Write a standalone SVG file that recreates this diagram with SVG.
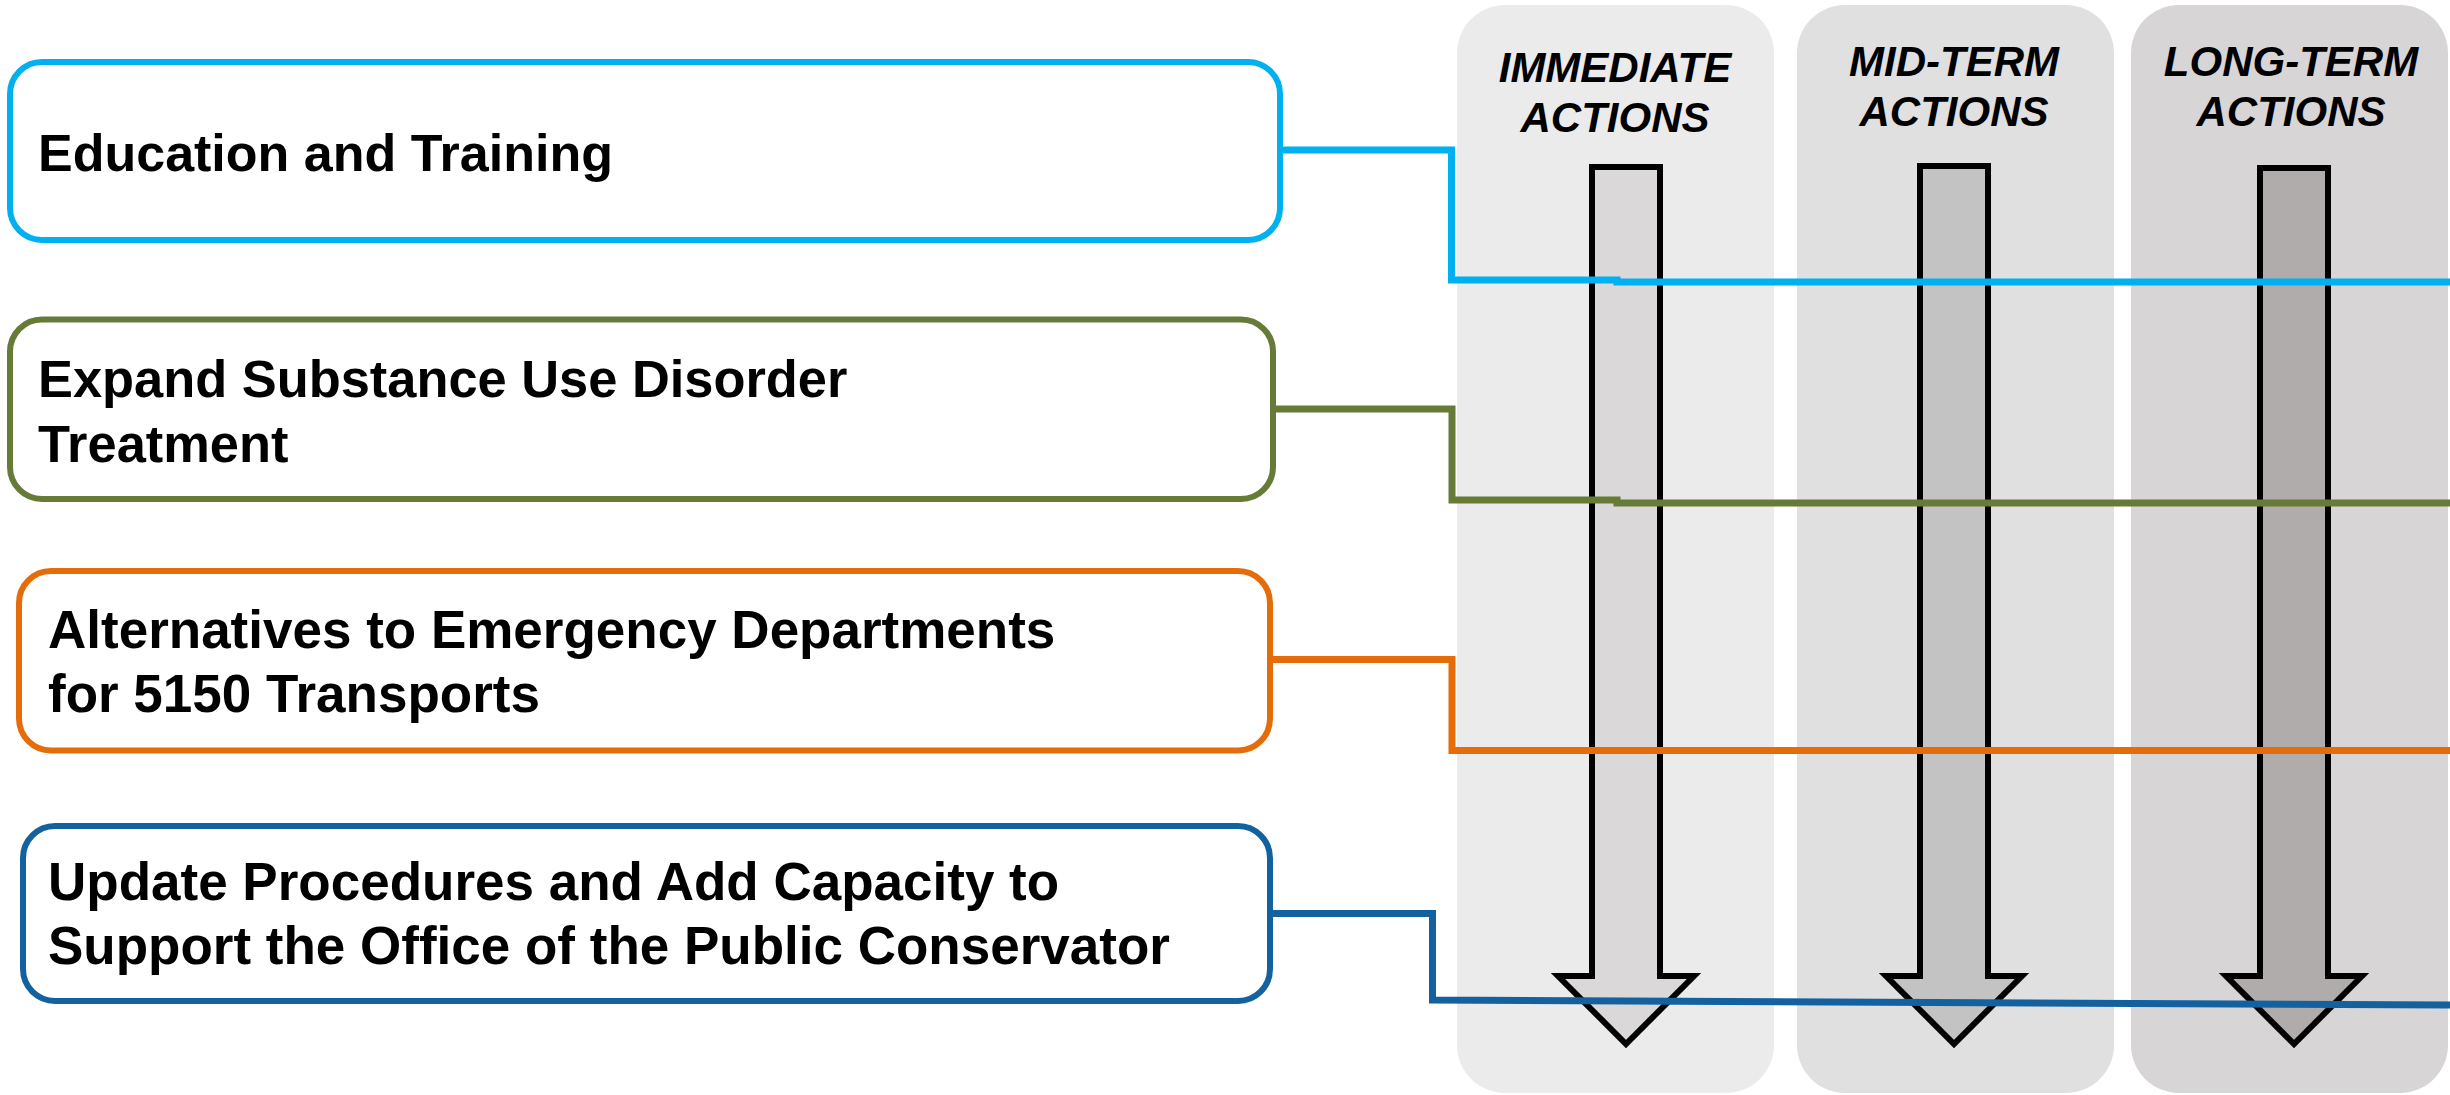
<svg xmlns="http://www.w3.org/2000/svg" width="2450" height="1095" viewBox="0 0 2450 1095">
<style>
.box{fill:#FFFFFF;stroke-width:6}
.lbl{font-family:"Liberation Sans",Arial,sans-serif;font-weight:bold;font-size:52px;fill:#000}
.lbl2{font-size:53px}
.hdr{font-family:"Liberation Sans",Arial,sans-serif;font-weight:bold;font-style:italic;font-size:42px;fill:#000;text-anchor:middle}
.arrow{stroke:#000;stroke-width:6;stroke-linejoin:miter;stroke-miterlimit:10}
.conn{fill:none;stroke-width:7;stroke-linejoin:miter}
</style>
<rect width="2450" height="1095" fill="#FFFFFF"/>
<g id="col-immediate">
<rect x="1457" y="5" width="317" height="1088" rx="48" ry="48" fill="#EBEBEB"/>
<text class="hdr" x="1615" y="82">IMMEDIATE</text>
<text class="hdr" x="1615" y="132">ACTIONS</text>
<polygon class="arrow" fill="#DAD8D9" points="1592,167 1660,167 1660,976 1694,976 1626,1044 1558,976 1592,976"/>
</g>
<g id="col-midterm">
<rect x="1797" y="5" width="317" height="1088" rx="48" ry="48" fill="#E0E0E0"/>
<text class="hdr" x="1954" y="76">MID-TERM</text>
<text class="hdr" x="1954" y="126">ACTIONS</text>
<polygon class="arrow" fill="#C4C3C4" points="1920,166 1988,166 1988,976 2022,976 1954,1044 1886,976 1920,976"/>
</g>
<g id="col-longterm">
<rect x="2131" y="5" width="317" height="1088" rx="48" ry="48" fill="#D7D5D6"/>
<text class="hdr" x="2291" y="76">LONG-TERM</text>
<text class="hdr" x="2291" y="126">ACTIONS</text>
<polygon class="arrow" fill="#B0ACAB" points="2260,168 2328,168 2328,976 2362,976 2294,1044 2226,976 2260,976"/>
</g>
<g id="node-education">
<rect class="box" x="10" y="62" width="1270" height="178" rx="32" ry="32" stroke="#00B0F0"/>
<text class="lbl" x="38" y="171">Education and Training</text>
</g>
<g id="node-substance">
<rect class="box" x="10" y="319.5" width="1263" height="179.5" rx="32" ry="32" stroke="#677B39"/>
<text class="lbl" x="38" y="397" style="font-size:52.4px">Expand Substance Use Disorder</text>
<text class="lbl" x="38" y="462" style="font-size:52.4px">Treatment</text>
</g>
<g id="node-alternatives">
<rect class="box" x="19" y="571" width="1251" height="179.5" rx="32" ry="32" stroke="#E46C0A"/>
<text class="lbl lbl2" x="48" y="648">Alternatives to Emergency Departments</text>
<text class="lbl lbl2" x="48" y="712">for 5150 Transports</text>
</g>
<g id="node-conservator">
<rect class="box" x="23" y="826" width="1247" height="175" rx="32" ry="32" stroke="#1461A0"/>
<text class="lbl lbl2" x="48" y="900">Update Procedures and Add Capacity to</text>
<text class="lbl lbl2" x="48" y="964">Support the Office of the Public Conservator</text>
</g>
<g id="connectors">
<path class="conn" stroke="#00B0F0" d="M1280,150 H1451.5 V280 H1617 V282 H2450"/>
<path class="conn" stroke="#677B39" d="M1273,409 H1452 V500 H1617 V503 H2450"/>
<path class="conn" stroke="#E46C0A" d="M1270,659.5 H1452 V750.5 H2450"/>
<path class="conn" stroke="#1461A0" d="M1270,913.5 H1432.5 V1000 L2450,1005"/>
</g>
</svg>
